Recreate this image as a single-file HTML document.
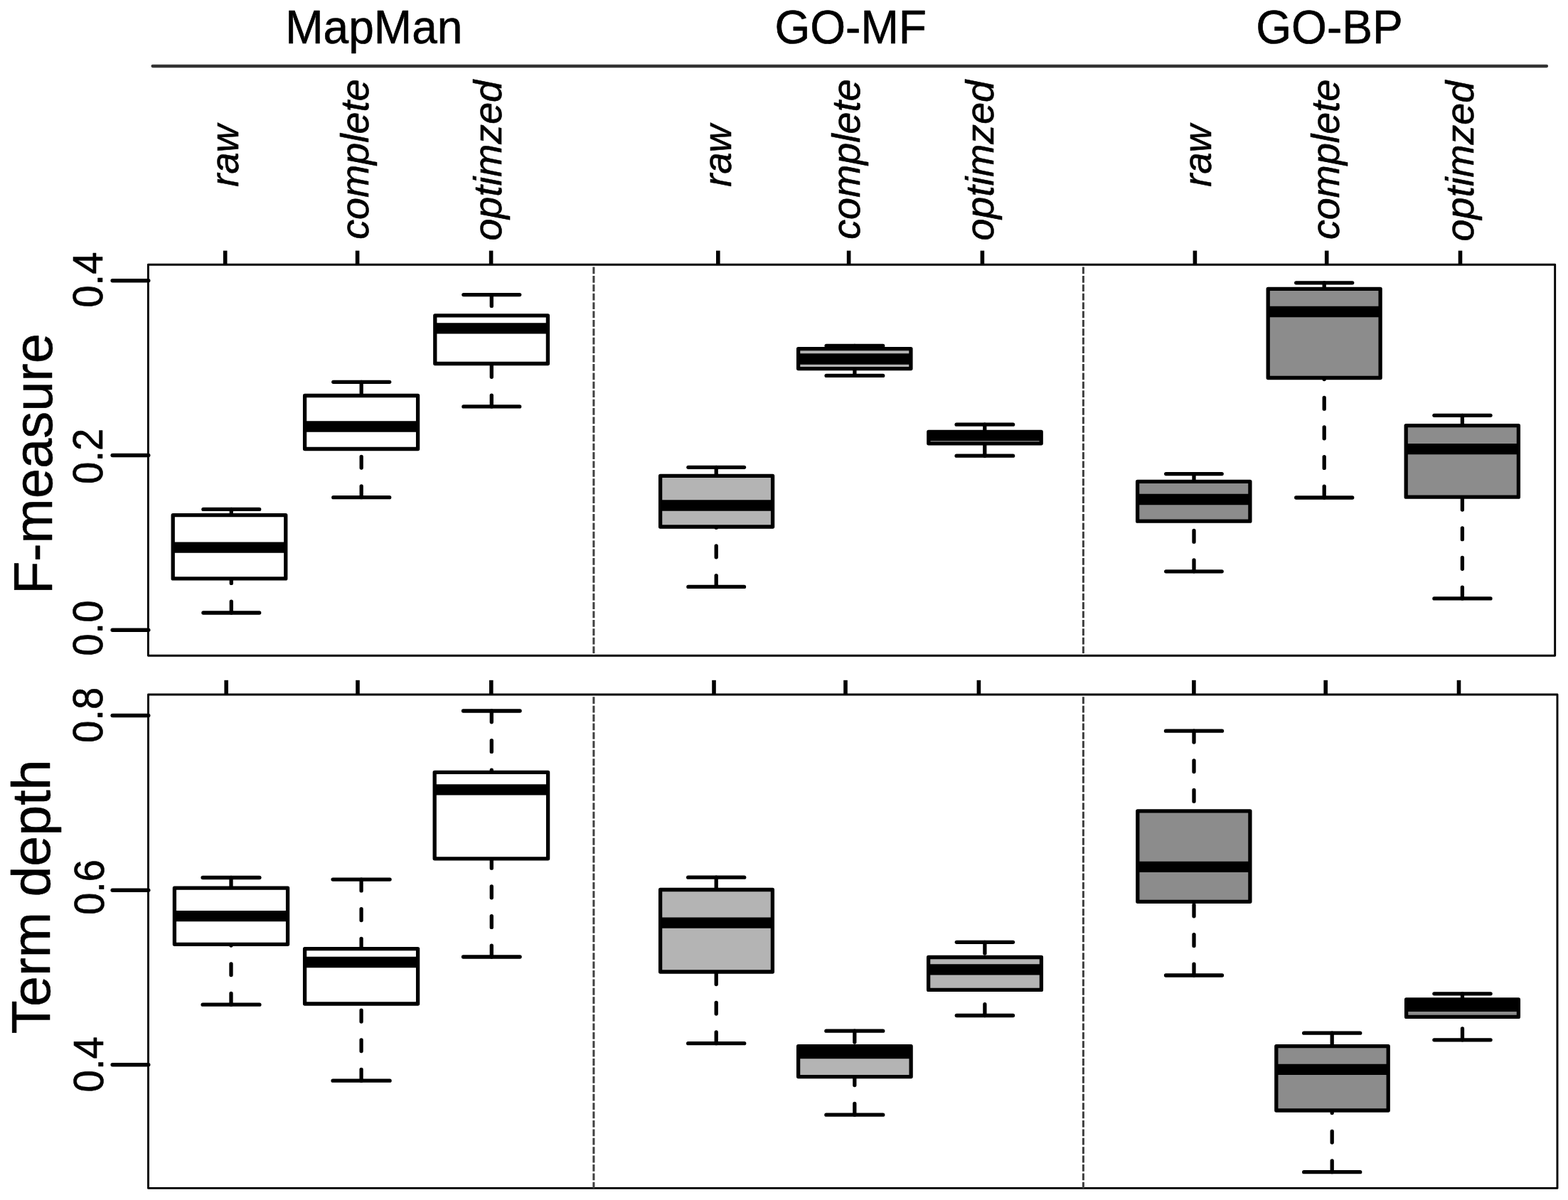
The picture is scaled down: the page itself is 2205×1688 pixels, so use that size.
<!DOCTYPE html>
<html lang="en"><head><meta charset="utf-8"><title>Boxplots: F-measure and Term depth</title>
<style>
html,body{margin:0;padding:0;background:#fff;}
body{width:2205px;height:1688px;overflow:hidden;}
svg{display:block;}
text{font-family:"Liberation Sans",Arial,Helvetica,sans-serif;fill:#000;stroke:#000;stroke-width:0.6px;stroke-linejoin:round;}
.it{font-style:italic;}
</style></head><body>
<svg width="2205" height="1688" viewBox="0 0 2205 1688">
<rect width="2205" height="1688" fill="#fff"/>
<text font-size="64.6" text-anchor="middle" transform="translate(525.8 60.8) scale(0.992 1.025)">MapMan</text>
<text font-size="64.6" text-anchor="middle" transform="translate(1196.2 60.8) scale(0.992 1.025)">GO-MF</text>
<text font-size="64.6" text-anchor="middle" transform="translate(1869.5 60.8) scale(0.992 1.025)">GO-BP</text>
<line x1="214.6" y1="93.0" x2="2175.0" y2="93.0" stroke="#333" stroke-width="4.3" stroke-linecap="round"/>
<text class="it" font-size="55.6" text-anchor="middle" transform="translate(335.2 219.0) rotate(-90) scale(0.975 1)">raw</text>
<text class="it" font-size="55.6" text-anchor="middle" transform="translate(517.8 224.0) rotate(-90) scale(1.000 1)">complete</text>
<text class="it" font-size="55.6" text-anchor="middle" transform="translate(705.3 225.8) rotate(-90) scale(1.000 1)">optimzed</text>
<text class="it" font-size="55.6" text-anchor="middle" transform="translate(1027.5 219.0) rotate(-90) scale(0.975 1)">raw</text>
<text class="it" font-size="55.6" text-anchor="middle" transform="translate(1208.8 224.0) rotate(-90) scale(1.000 1)">complete</text>
<text class="it" font-size="55.6" text-anchor="middle" transform="translate(1396.6 225.8) rotate(-90) scale(1.000 1)">optimzed</text>
<text class="it" font-size="55.6" text-anchor="middle" transform="translate(1702.7 219.0) rotate(-90) scale(0.975 1)">raw</text>
<text class="it" font-size="55.6" text-anchor="middle" transform="translate(1883.1 224.3) rotate(-90) scale(1.000 1)">complete</text>
<text class="it" font-size="55.6" text-anchor="middle" transform="translate(2072.1 226.6) rotate(-90) scale(1.000 1)">optimzed</text>
<rect x="208.4" y="372.2" width="1978.3" height="550.1" fill="none" stroke="#000" stroke-width="2.9" stroke-linejoin="round"/>
<line x1="834.9" y1="375.5" x2="834.9" y2="922.3" stroke="#404040" stroke-width="3" stroke-dasharray="9.8 2.61"/>
<line x1="1523.4" y1="375.5" x2="1523.4" y2="922.3" stroke="#404040" stroke-width="3" stroke-dasharray="9.8 2.61"/>
<line x1="316.7" y1="352.6" x2="316.7" y2="372.4" stroke="#000" stroke-width="5.6"/>
<line x1="502.6" y1="352.6" x2="502.6" y2="372.4" stroke="#000" stroke-width="5.6"/>
<line x1="690.6" y1="352.6" x2="690.6" y2="372.4" stroke="#000" stroke-width="5.6"/>
<line x1="1009.8" y1="352.6" x2="1009.8" y2="372.4" stroke="#000" stroke-width="5.6"/>
<line x1="1193.6" y1="352.6" x2="1193.6" y2="372.4" stroke="#000" stroke-width="5.6"/>
<line x1="1381.4" y1="352.6" x2="1381.4" y2="372.4" stroke="#000" stroke-width="5.6"/>
<line x1="1680.4" y1="352.6" x2="1680.4" y2="372.4" stroke="#000" stroke-width="5.6"/>
<line x1="1865.7" y1="352.6" x2="1865.7" y2="372.4" stroke="#000" stroke-width="5.6"/>
<line x1="2053.5" y1="352.6" x2="2053.5" y2="372.4" stroke="#000" stroke-width="5.6"/>
<line x1="158.2" y1="394.7" x2="208.7" y2="394.7" stroke="#000" stroke-width="5.5" stroke-linecap="round"/>
<text font-size="58.4" text-anchor="middle" transform="translate(143.7 393.6) rotate(-90) scale(0.9630 1)">0.4</text>
<line x1="158.2" y1="640.4" x2="208.7" y2="640.4" stroke="#000" stroke-width="5.5" stroke-linecap="round"/>
<text font-size="58.4" text-anchor="middle" transform="translate(144.0 641.8) rotate(-90) scale(0.9630 1)">0.2</text>
<line x1="158.2" y1="886.3" x2="208.7" y2="886.3" stroke="#000" stroke-width="5.5" stroke-linecap="round"/>
<text font-size="58.4" text-anchor="middle" transform="translate(144.0 883.6) rotate(-90) scale(0.9630 1)">0.0</text>
<rect x="208.5" y="977.0" width="1981.5" height="694.4" fill="none" stroke="#000" stroke-width="2.9" stroke-linejoin="round"/>
<line x1="834.9" y1="980.3" x2="834.9" y2="1671.4" stroke="#404040" stroke-width="3" stroke-dasharray="9.8 2.61"/>
<line x1="1523.4" y1="980.3" x2="1523.4" y2="1671.4" stroke="#404040" stroke-width="3" stroke-dasharray="9.8 2.61"/>
<line x1="318.2" y1="956.8" x2="318.2" y2="977.0" stroke="#000" stroke-width="5.6"/>
<line x1="503.0" y1="956.8" x2="503.0" y2="977.0" stroke="#000" stroke-width="5.6"/>
<line x1="690.8" y1="956.8" x2="690.8" y2="977.0" stroke="#000" stroke-width="5.6"/>
<line x1="1004.0" y1="956.8" x2="1004.0" y2="977.0" stroke="#000" stroke-width="5.6"/>
<line x1="1189.0" y1="956.8" x2="1189.0" y2="977.0" stroke="#000" stroke-width="5.6"/>
<line x1="1376.4" y1="956.8" x2="1376.4" y2="977.0" stroke="#000" stroke-width="5.6"/>
<line x1="1678.9" y1="956.8" x2="1678.9" y2="977.0" stroke="#000" stroke-width="5.6"/>
<line x1="1864.2" y1="956.8" x2="1864.2" y2="977.0" stroke="#000" stroke-width="5.6"/>
<line x1="2051.5" y1="956.8" x2="2051.5" y2="977.0" stroke="#000" stroke-width="5.6"/>
<line x1="158.2" y1="1006.4" x2="208.7" y2="1006.4" stroke="#000" stroke-width="5.5" stroke-linecap="round"/>
<text font-size="58.4" text-anchor="middle" transform="translate(144.3 1005.8) rotate(-90) scale(0.9630 1)">0.8</text>
<line x1="158.2" y1="1252.3" x2="208.7" y2="1252.3" stroke="#000" stroke-width="5.5" stroke-linecap="round"/>
<text font-size="58.4" text-anchor="middle" transform="translate(145.6 1248.0) rotate(-90) scale(0.9630 1)">0.6</text>
<line x1="158.2" y1="1497.8" x2="208.7" y2="1497.8" stroke="#000" stroke-width="5.5" stroke-linecap="round"/>
<text font-size="58.4" text-anchor="middle" transform="translate(145.3 1497.3) rotate(-90) scale(0.9630 1)">0.4</text>
<text font-size="76.4" text-anchor="middle" transform="translate(73.3 652.5) rotate(-90) scale(0.9940 1)">F-measure</text>
<text font-size="76.4" text-anchor="middle" transform="translate(69.6 1261.5) rotate(-90) scale(1.0100 1)">Term depth</text>
<g stroke="#000" stroke-linecap="butt" fill="none">
<line x1="325.3" y1="716.4" x2="325.3" y2="724.7" stroke-width="5.3" stroke-dasharray="15.8 25.8" stroke-linecap="round"/>
<line x1="325.3" y1="862.0" x2="325.3" y2="813.9" stroke-width="5.3" stroke-dasharray="15.8 25.8" stroke-linecap="round"/>
<line x1="285.9" y1="716.4" x2="364.7" y2="716.4" stroke-width="5.3" stroke-linecap="round"/>
<line x1="285.9" y1="862.0" x2="364.7" y2="862.0" stroke-width="5.3" stroke-linecap="round"/>
<rect x="243.2" y="724.7" width="158.6" height="89.2" fill="#fff" stroke-width="5.3" stroke-linejoin="round"/>
<line x1="243.2" y1="770.2" x2="401.8" y2="770.2" stroke-width="15.3"/>
</g>
<g stroke="#000" stroke-linecap="butt" fill="none">
<line x1="508.2" y1="537.3" x2="508.2" y2="556.5" stroke-width="5.3" stroke-dasharray="15.8 25.8" stroke-linecap="round"/>
<line x1="508.2" y1="699.7" x2="508.2" y2="631.5" stroke-width="5.3" stroke-dasharray="15.8 25.8" stroke-linecap="round"/>
<line x1="468.8" y1="537.3" x2="547.7" y2="537.3" stroke-width="5.3" stroke-linecap="round"/>
<line x1="468.8" y1="699.7" x2="547.7" y2="699.7" stroke-width="5.3" stroke-linecap="round"/>
<rect x="428.6" y="556.5" width="159.0" height="75.0" fill="#fff" stroke-width="5.3" stroke-linejoin="round"/>
<line x1="428.6" y1="600.0" x2="587.6" y2="600.0" stroke-width="15.3"/>
</g>
<g stroke="#000" stroke-linecap="butt" fill="none">
<line x1="691.3" y1="414.6" x2="691.3" y2="443.9" stroke-width="5.3" stroke-dasharray="15.8 25.8" stroke-linecap="round"/>
<line x1="691.3" y1="571.9" x2="691.3" y2="511.5" stroke-width="5.3" stroke-dasharray="15.8 25.8" stroke-linecap="round"/>
<line x1="651.9" y1="414.6" x2="730.7" y2="414.6" stroke-width="5.3" stroke-linecap="round"/>
<line x1="651.9" y1="571.9" x2="730.7" y2="571.9" stroke-width="5.3" stroke-linecap="round"/>
<rect x="611.8" y="443.9" width="158.6" height="67.6" fill="#fff" stroke-width="5.3" stroke-linejoin="round"/>
<line x1="611.8" y1="461.8" x2="770.4" y2="461.8" stroke-width="15.3"/>
</g>
<g stroke="#000" stroke-linecap="butt" fill="none">
<line x1="1007.2" y1="657.3" x2="1007.2" y2="669.3" stroke-width="5.3" stroke-dasharray="15.8 25.8" stroke-linecap="round"/>
<line x1="1007.2" y1="825.4" x2="1007.2" y2="741.0" stroke-width="5.3" stroke-dasharray="15.8 25.8" stroke-linecap="round"/>
<line x1="967.9" y1="657.3" x2="1046.5" y2="657.3" stroke-width="5.3" stroke-linecap="round"/>
<line x1="967.9" y1="825.4" x2="1046.5" y2="825.4" stroke-width="5.3" stroke-linecap="round"/>
<rect x="928.6" y="669.3" width="158.0" height="71.7" fill="#b4b4b4" stroke-width="5.3" stroke-linejoin="round"/>
<line x1="928.6" y1="711.0" x2="1086.6" y2="711.0" stroke-width="15.3"/>
</g>
<g stroke="#000" stroke-linecap="butt" fill="none">
<line x1="1201.9" y1="486.4" x2="1201.9" y2="490.6" stroke-width="5.3" stroke-dasharray="15.8 25.8" stroke-linecap="round"/>
<line x1="1201.9" y1="528.4" x2="1201.9" y2="518.6" stroke-width="5.3" stroke-dasharray="15.8 25.8" stroke-linecap="round"/>
<line x1="1162.1" y1="486.4" x2="1241.7" y2="486.4" stroke-width="5.3" stroke-linecap="round"/>
<line x1="1162.1" y1="528.4" x2="1241.7" y2="528.4" stroke-width="5.3" stroke-linecap="round"/>
<rect x="1122.6" y="490.6" width="158.3" height="28.0" fill="#b4b4b4" stroke-width="5.3" stroke-linejoin="round"/>
<line x1="1122.6" y1="505.0" x2="1280.9" y2="505.0" stroke-width="15.3"/>
</g>
<g stroke="#000" stroke-linecap="butt" fill="none">
<line x1="1384.8" y1="597.2" x2="1384.8" y2="607.5" stroke-width="5.3" stroke-dasharray="15.8 25.8" stroke-linecap="round"/>
<line x1="1384.8" y1="641.2" x2="1384.8" y2="623.8" stroke-width="5.3" stroke-dasharray="15.8 25.8" stroke-linecap="round"/>
<line x1="1345.1" y1="597.2" x2="1424.6" y2="597.2" stroke-width="5.3" stroke-linecap="round"/>
<line x1="1345.1" y1="641.2" x2="1424.6" y2="641.2" stroke-width="5.3" stroke-linecap="round"/>
<rect x="1305.8" y="607.5" width="158.4" height="16.3" fill="#b4b4b4" stroke-width="5.3" stroke-linejoin="round"/>
<line x1="1305.8" y1="612.7" x2="1464.2" y2="612.7" stroke-width="15.3"/>
</g>
<g stroke="#000" stroke-linecap="butt" fill="none">
<line x1="1679.0" y1="666.6" x2="1679.0" y2="677.4" stroke-width="5.3" stroke-dasharray="15.8 25.8" stroke-linecap="round"/>
<line x1="1679.0" y1="803.8" x2="1679.0" y2="733.2" stroke-width="5.3" stroke-dasharray="15.8 25.8" stroke-linecap="round"/>
<line x1="1639.7" y1="666.6" x2="1718.2" y2="666.6" stroke-width="5.3" stroke-linecap="round"/>
<line x1="1639.7" y1="803.8" x2="1718.2" y2="803.8" stroke-width="5.3" stroke-linecap="round"/>
<rect x="1599.6" y="677.4" width="158.3" height="55.8" fill="#8c8c8c" stroke-width="5.3" stroke-linejoin="round"/>
<line x1="1599.6" y1="702.5" x2="1757.9" y2="702.5" stroke-width="15.3"/>
</g>
<g stroke="#000" stroke-linecap="butt" fill="none">
<line x1="1862.2" y1="397.8" x2="1862.2" y2="406.3" stroke-width="5.3" stroke-dasharray="15.8 25.8" stroke-linecap="round"/>
<line x1="1862.2" y1="700.0" x2="1862.2" y2="531.5" stroke-width="5.3" stroke-dasharray="15.8 25.8" stroke-linecap="round"/>
<line x1="1822.7" y1="397.8" x2="1901.7" y2="397.8" stroke-width="5.3" stroke-linecap="round"/>
<line x1="1822.7" y1="700.0" x2="1901.7" y2="700.0" stroke-width="5.3" stroke-linecap="round"/>
<rect x="1783.2" y="406.3" width="157.9" height="125.2" fill="#8c8c8c" stroke-width="5.3" stroke-linejoin="round"/>
<line x1="1783.2" y1="438.5" x2="1941.1" y2="438.5" stroke-width="15.3"/>
</g>
<g stroke="#000" stroke-linecap="butt" fill="none">
<line x1="2056.4" y1="584.3" x2="2056.4" y2="598.6" stroke-width="5.3" stroke-dasharray="15.8 25.8" stroke-linecap="round"/>
<line x1="2056.4" y1="841.9" x2="2056.4" y2="699.2" stroke-width="5.3" stroke-dasharray="15.8 25.8" stroke-linecap="round"/>
<line x1="2016.9" y1="584.3" x2="2096.0" y2="584.3" stroke-width="5.3" stroke-linecap="round"/>
<line x1="2016.9" y1="841.9" x2="2096.0" y2="841.9" stroke-width="5.3" stroke-linecap="round"/>
<rect x="1977.2" y="598.6" width="158.2" height="100.6" fill="#8c8c8c" stroke-width="5.3" stroke-linejoin="round"/>
<line x1="1977.2" y1="631.6" x2="2135.4" y2="631.6" stroke-width="15.3"/>
</g>
<g stroke="#000" stroke-linecap="butt" fill="none">
<line x1="325.0" y1="1234.5" x2="325.0" y2="1249.1" stroke-width="5.3" stroke-dasharray="15.8 25.8" stroke-linecap="round"/>
<line x1="325.0" y1="1413.2" x2="325.0" y2="1328.3" stroke-width="5.3" stroke-dasharray="15.8 25.8" stroke-linecap="round"/>
<line x1="285.1" y1="1234.5" x2="364.9" y2="1234.5" stroke-width="5.3" stroke-linecap="round"/>
<line x1="285.1" y1="1413.2" x2="364.9" y2="1413.2" stroke-width="5.3" stroke-linecap="round"/>
<rect x="245.4" y="1249.1" width="159.2" height="79.2" fill="#fff" stroke-width="5.3" stroke-linejoin="round"/>
<line x1="245.4" y1="1288.7" x2="404.6" y2="1288.7" stroke-width="15.3"/>
</g>
<g stroke="#000" stroke-linecap="butt" fill="none">
<line x1="508.1" y1="1237.1" x2="508.1" y2="1334.6" stroke-width="5.3" stroke-dasharray="15.8 25.8" stroke-linecap="round"/>
<line x1="508.1" y1="1520.2" x2="508.1" y2="1412.0" stroke-width="5.3" stroke-dasharray="15.8 25.8" stroke-linecap="round"/>
<line x1="468.1" y1="1237.1" x2="548.1" y2="1237.1" stroke-width="5.3" stroke-linecap="round"/>
<line x1="468.1" y1="1520.2" x2="548.1" y2="1520.2" stroke-width="5.3" stroke-linecap="round"/>
<rect x="428.6" y="1334.6" width="159.0" height="77.4" fill="#fff" stroke-width="5.3" stroke-linejoin="round"/>
<line x1="428.6" y1="1353.5" x2="587.6" y2="1353.5" stroke-width="15.3"/>
</g>
<g stroke="#000" stroke-linecap="butt" fill="none">
<line x1="691.3" y1="1000.0" x2="691.3" y2="1086.4" stroke-width="5.3" stroke-dasharray="15.8 25.8" stroke-linecap="round"/>
<line x1="691.3" y1="1346.0" x2="691.3" y2="1207.8" stroke-width="5.3" stroke-dasharray="15.8 25.8" stroke-linecap="round"/>
<line x1="651.5" y1="1000.0" x2="731.1" y2="1000.0" stroke-width="5.3" stroke-linecap="round"/>
<line x1="651.5" y1="1346.0" x2="731.1" y2="1346.0" stroke-width="5.3" stroke-linecap="round"/>
<rect x="611.2" y="1086.4" width="159.4" height="121.4" fill="#fff" stroke-width="5.3" stroke-linejoin="round"/>
<line x1="611.2" y1="1110.8" x2="770.6" y2="1110.8" stroke-width="15.3"/>
</g>
<g stroke="#000" stroke-linecap="butt" fill="none">
<line x1="1007.2" y1="1234.2" x2="1007.2" y2="1251.5" stroke-width="5.3" stroke-dasharray="15.8 25.8" stroke-linecap="round"/>
<line x1="1007.2" y1="1467.7" x2="1007.2" y2="1367.0" stroke-width="5.3" stroke-dasharray="15.8 25.8" stroke-linecap="round"/>
<line x1="967.7" y1="1234.2" x2="1046.7" y2="1234.2" stroke-width="5.3" stroke-linecap="round"/>
<line x1="967.7" y1="1467.7" x2="1046.7" y2="1467.7" stroke-width="5.3" stroke-linecap="round"/>
<rect x="928.6" y="1251.5" width="157.8" height="115.5" fill="#b4b4b4" stroke-width="5.3" stroke-linejoin="round"/>
<line x1="928.6" y1="1298.2" x2="1086.4" y2="1298.2" stroke-width="15.3"/>
</g>
<g stroke="#000" stroke-linecap="butt" fill="none">
<line x1="1201.8" y1="1450.2" x2="1201.8" y2="1471.7" stroke-width="5.3" stroke-dasharray="15.8 25.8" stroke-linecap="round"/>
<line x1="1201.8" y1="1568.2" x2="1201.8" y2="1514.6" stroke-width="5.3" stroke-dasharray="15.8 25.8" stroke-linecap="round"/>
<line x1="1161.9" y1="1450.2" x2="1241.7" y2="1450.2" stroke-width="5.3" stroke-linecap="round"/>
<line x1="1161.9" y1="1568.2" x2="1241.7" y2="1568.2" stroke-width="5.3" stroke-linecap="round"/>
<rect x="1122.6" y="1471.7" width="158.5" height="42.9" fill="#b4b4b4" stroke-width="5.3" stroke-linejoin="round"/>
<line x1="1122.6" y1="1481.6" x2="1281.1" y2="1481.6" stroke-width="15.3"/>
</g>
<g stroke="#000" stroke-linecap="butt" fill="none">
<line x1="1384.9" y1="1325.3" x2="1384.9" y2="1346.5" stroke-width="5.3" stroke-dasharray="15.8 25.8" stroke-linecap="round"/>
<line x1="1384.9" y1="1428.5" x2="1384.9" y2="1392.4" stroke-width="5.3" stroke-dasharray="15.8 25.8" stroke-linecap="round"/>
<line x1="1345.3" y1="1325.3" x2="1424.5" y2="1325.3" stroke-width="5.3" stroke-linecap="round"/>
<line x1="1345.3" y1="1428.5" x2="1424.5" y2="1428.5" stroke-width="5.3" stroke-linecap="round"/>
<rect x="1305.6" y="1346.5" width="158.8" height="45.9" fill="#b4b4b4" stroke-width="5.3" stroke-linejoin="round"/>
<line x1="1305.6" y1="1363.8" x2="1464.4" y2="1363.8" stroke-width="15.3"/>
</g>
<g stroke="#000" stroke-linecap="butt" fill="none">
<line x1="1679.0" y1="1028.2" x2="1679.0" y2="1140.8" stroke-width="5.3" stroke-dasharray="15.8 25.8" stroke-linecap="round"/>
<line x1="1679.0" y1="1372.0" x2="1679.0" y2="1268.3" stroke-width="5.3" stroke-dasharray="15.8 25.8" stroke-linecap="round"/>
<line x1="1639.5" y1="1028.2" x2="1718.5" y2="1028.2" stroke-width="5.3" stroke-linecap="round"/>
<line x1="1639.5" y1="1372.0" x2="1718.5" y2="1372.0" stroke-width="5.3" stroke-linecap="round"/>
<rect x="1599.8" y="1140.8" width="158.1" height="127.5" fill="#8c8c8c" stroke-width="5.3" stroke-linejoin="round"/>
<line x1="1599.8" y1="1219.4" x2="1757.9" y2="1219.4" stroke-width="15.3"/>
</g>
<g stroke="#000" stroke-linecap="butt" fill="none">
<line x1="1873.2" y1="1453.2" x2="1873.2" y2="1471.6" stroke-width="5.3" stroke-dasharray="15.8 25.8" stroke-linecap="round"/>
<line x1="1873.2" y1="1648.7" x2="1873.2" y2="1562.0" stroke-width="5.3" stroke-dasharray="15.8 25.8" stroke-linecap="round"/>
<line x1="1833.7" y1="1453.2" x2="1912.7" y2="1453.2" stroke-width="5.3" stroke-linecap="round"/>
<line x1="1833.7" y1="1648.7" x2="1912.7" y2="1648.7" stroke-width="5.3" stroke-linecap="round"/>
<rect x="1794.8" y="1471.6" width="157.4" height="90.4" fill="#8c8c8c" stroke-width="5.3" stroke-linejoin="round"/>
<line x1="1794.8" y1="1504.3" x2="1952.2" y2="1504.3" stroke-width="15.3"/>
</g>
<g stroke="#000" stroke-linecap="butt" fill="none">
<line x1="2056.5" y1="1397.8" x2="2056.5" y2="1406.0" stroke-width="5.3" stroke-dasharray="15.8 25.8" stroke-linecap="round"/>
<line x1="2056.5" y1="1462.8" x2="2056.5" y2="1430.4" stroke-width="5.3" stroke-dasharray="15.8 25.8" stroke-linecap="round"/>
<line x1="2016.9" y1="1397.8" x2="2096.1" y2="1397.8" stroke-width="5.3" stroke-linecap="round"/>
<line x1="2016.9" y1="1462.8" x2="2096.1" y2="1462.8" stroke-width="5.3" stroke-linecap="round"/>
<rect x="1977.6" y="1406.0" width="157.8" height="24.4" fill="#8c8c8c" stroke-width="5.3" stroke-linejoin="round"/>
<line x1="1977.6" y1="1415.4" x2="2135.4" y2="1415.4" stroke-width="15.3"/>
</g>
</svg>
</body></html>
